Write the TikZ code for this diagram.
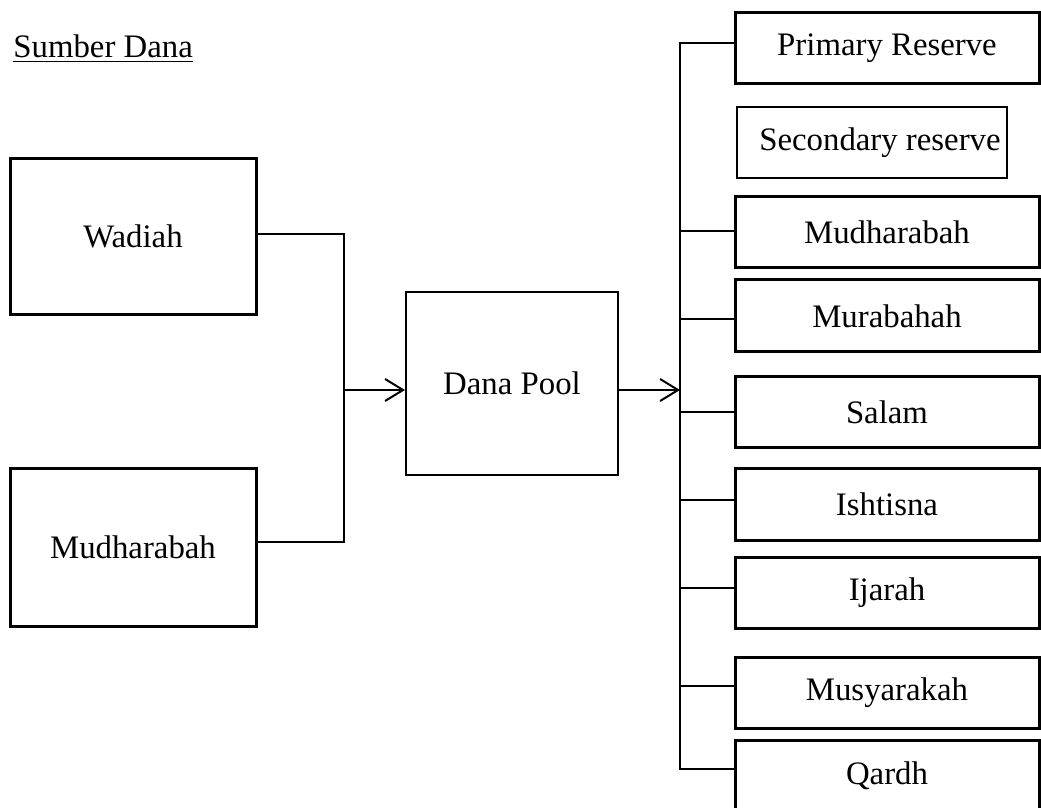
\documentclass[tikz,border=0pt]{standalone}
\usepackage{fontspec}
\setmainfont{Liberation Serif}
\usetikzlibrary{arrows.meta}

\tikzset{
  srcbox/.style={draw, line width=1.5pt, minimum width=123pt, minimum height=78pt},
  usebox/.style={draw, line width=1.5pt, minimum width=152pt, minimum height=35.5pt},
  thinbox/.style={draw, line width=1pt},
  link/.style={line width=1pt},
  flow/.style={line width=1pt, -{Straight Barb[length=9pt, width=11pt, line width=1pt]}}
}

\begin{document}
\begin{tikzpicture}[x=0.5pt, y=-0.5pt, font=\fontsize{16.4}{19}\selectfont]
    \useasboundingbox (0,0) rectangle (1041,808);

    % heading
    \node[anchor=base west, inner sep=0pt] (title) at (13,58) {\underline{Sumber Dana}};

    % sources of funds on the left
    \node[srcbox] (wad) at (133,236.5) {Wadiah};
    \node[srcbox, minimum height=78.5pt] (mudl) at (133,547.5) {Mudharabah};

    % the pool in the middle
    \node[thinbox, minimum width=106pt, minimum height=91.5pt] (pool) at (512,383.5) {Dana Pool};

    % uses of funds on the right
    \node[usebox] (pr) at (887,48) {Primary Reserve};
    \node[thinbox, minimum width=135pt, minimum height=35.5pt] (sr) at (872,142.5) {\hspace{8pt}Secondary reserve};
    \node[usebox] (mudr) at (887,232.5) {Mudharabah};
    \node[usebox, minimum height=36pt] (mur) at (887,316) {Murabahah};
    \node[usebox] (sal) at (887,412) {Salam};
    \node[usebox] (ish) at (887,504.5) {Ishtisna};
    \node[usebox] (ija) at (887,592.5) {Ijarah};
    \node[usebox] (mus) at (887,692.5) {Musyarakah};
    \node[usebox, minimum height=36pt] (qa) at (887,776) {Qardh};

    % joints of the connectors
    \coordinate (join) at (344,390);
    \coordinate (bus) at (680,390);

    % sources into the pool
    \draw[link] ([yshift=1.25pt]wad.east) -| (join) |- ([yshift=2.75pt]mudl.east);
    \draw[flow] (join) -- (pool.west |- join);

    % pool out to the uses
    \draw[flow] (pool.east |- bus) -- (bus);
    \draw[link] ([yshift=2.5pt]pr.west) -| (bus) |- ([yshift=3.5pt]qa.west);
    \foreach \u/\dy in {mudr/0.75, mur/-1.5, sal/0, ish/2.25, ija/2.25, mus/3.25} {
        \coordinate (tap) at ([yshift=\dy pt]\u.west);
        \draw[link] (tap) -- (bus |- tap);
    }

\end{tikzpicture}
\end{document}
